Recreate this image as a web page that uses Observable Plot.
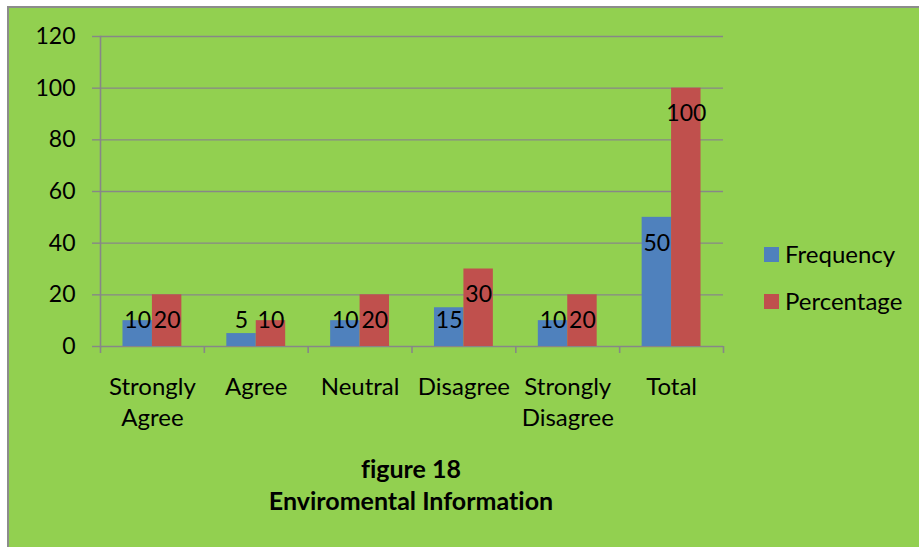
<!DOCTYPE html>
<html><head><meta charset="utf-8">
<script src="https://cdn.jsdelivr.net/npm/d3@7"></script>
<script src="https://cdn.jsdelivr.net/npm/@observablehq/plot@0.6"></script>
<style>
body{margin:0;background:#fff;}
#wrap{position:absolute;left:7px;top:6px;width:912px;height:541px;background:#92D050;border-left:2px solid #8c8c8c;border-top:2px solid #8c8c8c;font-family:Lato,sans-serif;color:#000;overflow:hidden;font-variant-ligatures:none}
#chart{position:absolute;left:0;top:0}
#chart svg{font-variant-ligatures:none}
.sw{position:absolute;width:15px;height:15px}
.lt{position:absolute;font-size:24px;line-height:30px;white-space:nowrap}
#caption{position:absolute;left:0;top:444px;width:804px;text-align:center;font-weight:bold;font-size:25px;line-height:32px}
</style></head>
<body>
<div id="wrap">
  <div id="chart"></div>
  <div id="legend"></div>
  <div id="caption"></div>
</div>
<script>
const categories = ["Strongly Agree", "Agree", "Neutral", "Disagree", "Strongly Disagree", "Total"];
const frequency = [10, 5, 10, 15, 10, 50];
const percentage = [20, 10, 20, 30, 20, 100];
const yTicks = [0, 20, 40, 60, 80, 100, 120];
const seriesNames = ["Frequency", "Percentage"];
const seriesColors = ["#4F81BD", "#C0504D"];
const captionLines = ["figure 18", "Enviromental Information"];

const freqRows = categories.map((c, i) => ({cat: c, series: "Frequency", value: frequency[i]}));
const pctRows = categories.map((c, i) => ({cat: c, series: "Percentage", value: percentage[i]}));

const W = 910, H = 450;
const mL = 91, mR = 196, mT = 28, mB = 112;
const step = (W - mL - mR) / categories.length;
const pIn = 0.433;
const half = step * (1 - pIn) / 2;
const gray = "#878787";
const labelY = d => Math.max(d.value - 10, 10);

const chart = Plot.plot({
  width: W, height: H,
  marginLeft: mL, marginRight: mR, marginTop: mT, marginBottom: mB,
  style: {fontFamily: "Lato, sans-serif", fontSize: "23px", background: "transparent", color: "#000", overflow: "visible"},
  x: {domain: categories, paddingInner: pIn, paddingOuter: pIn / 2, round: false, label: null},
  y: {domain: [0, 120], label: null},
  marks: [
    Plot.gridY(yTicks, {stroke: gray, strokeOpacity: 1, strokeWidth: 1.4}),
    Plot.axisY(yTicks, {tickSize: 8, tickPadding: 17, stroke: gray, strokeOpacity: 1, strokeWidth: 1.4, label: null, fill: "#000"}),
    Plot.frame({anchor: "left", stroke: gray, strokeWidth: 1.6}),
    Plot.axisX(categories, {tickSize: 7, dx: -step / 2, stroke: gray, strokeWidth: 1.6, tickFormat: () => "", label: null}),
    Plot.axisX(categories.slice(-1), {tickSize: 7, dx: step / 2, stroke: gray, strokeWidth: 1.6, tickFormat: () => "", label: null}),
    Plot.axisX(categories, {tickSize: 0, tickPadding: 26, fontSize: 24, lineHeight: 1.3, tickFormat: d => d.replace("Strongly ", "Strongly\n"), label: null, fill: "#000"}),
    Plot.barY(freqRows, {x: "cat", y: "value", fill: seriesColors[0], insetRight: half}),
    Plot.barY(pctRows, {x: "cat", y: "value", fill: seriesColors[1], insetLeft: half}),
    Plot.text(freqRows, {x: "cat", y: labelY, text: d => String(d.value), dx: -half / 2, fill: "#000"}),
    Plot.text(pctRows, {x: "cat", y: labelY, text: d => String(d.value), dx: half / 2, fill: "#000"})
  ]
});
document.getElementById("chart").appendChild(chart);

const legend = document.getElementById("legend");
seriesNames.forEach((name, i) => {
  const cy = 246 + i * 47;
  const sw = document.createElement("div");
  sw.className = "sw";
  sw.style.left = "755px";
  sw.style.top = (cy - 7) + "px";
  sw.style.background = seriesColors[i];
  legend.appendChild(sw);
  const t = document.createElement("div");
  t.className = "lt";
  t.style.left = "776px";
  t.style.top = (cy - 15) + "px";
  t.textContent = name;
  legend.appendChild(t);
});

const cap = document.getElementById("caption");
captionLines.forEach(line => {
  const d = document.createElement("div");
  d.textContent = line;
  cap.appendChild(d);
});
</script>
</body></html>
